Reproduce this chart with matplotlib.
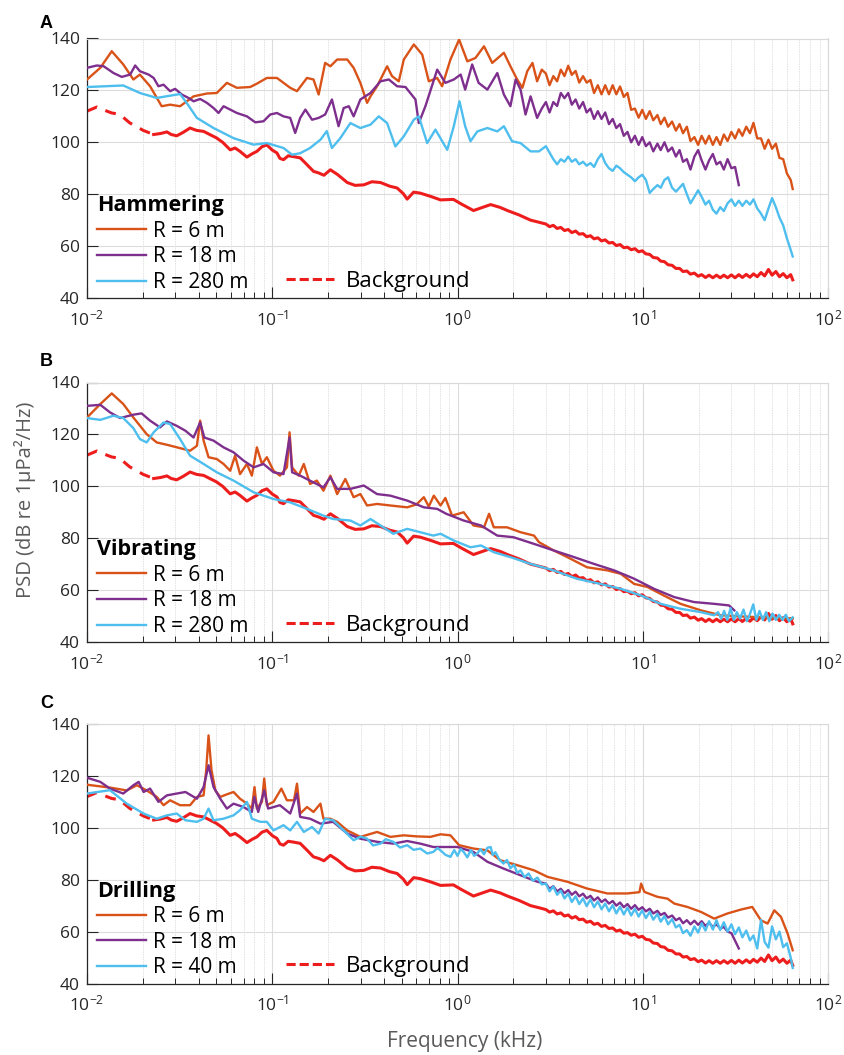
import matplotlib
matplotlib.use('Agg')
import matplotlib.pyplot as plt
from matplotlib.lines import Line2D
from matplotlib.ticker import LogLocator, MultipleLocator, NullFormatter

plt.rcParams['font.family'] = ['Open Sans', 'DejaVu Sans']
plt.rcParams['mathtext.default'] = 'regular'

ORANGE = '#D95319'
PURPLE = '#7E2F8E'
BLUE = '#4DBEEE'
RED = '#EE1D1D'

# shared high-frequency grid (kHz) for the noisy tails
f_hi = [3.0, 3.14, 3.29, 3.45, 3.61, 3.78, 3.96, 4.14, 4.34, 4.54, 4.76, 4.98, 5.22, 5.46,
        5.72, 5.99, 6.27, 6.57, 6.88, 7.2, 7.54, 7.9, 8.27, 8.66, 9.07, 9.5, 9.94, 10.4,
        10.9, 11.4, 12.0, 12.5, 13.1, 13.7, 14.4, 15.1, 15.8, 16.5, 17.3, 18.1, 19.0, 19.9,
        20.8, 21.8, 22.8, 23.9, 25.0, 26.2, 27.4, 28.7, 30.1, 31.5, 33.0, 34.5, 36.2, 37.9,
        39.6, 41.5, 43.5, 45.5, 47.7, 49.9, 52.3, 54.7, 57.3, 60.0, 62.9, 64.5]

# background noise (same in all panels)
bg_f = [0.01, 0.0113, 0.0125, 0.0136, 0.015, 0.017, 0.0201, 0.0229, 0.025, 0.027, 0.0285,
        0.0305, 0.033, 0.036, 0.039, 0.0426, 0.046, 0.05, 0.054, 0.0593, 0.063, 0.067, 0.073,
        0.078, 0.0826, 0.088, 0.0935, 0.1, 0.106, 0.11, 0.115, 0.122, 0.13, 0.1415, 0.152,
        0.167, 0.178, 0.19, 0.206, 0.225, 0.254, 0.28, 0.312, 0.345, 0.384, 0.43, 0.472, 0.51,
        0.535, 0.58, 0.63, 0.72, 0.81, 0.95, 1.05, 1.22, 1.35, 1.51, 1.7, 1.86, 2.15, 2.48, 2.75]
bg_db = [112, 113.6, 112.3, 111.3, 110.8, 107.5, 104.6, 103, 103.4, 104, 103, 102.5, 103.8,
         105.5, 104.6, 104.2, 103, 101.7, 100, 97.1, 97.8, 96.5, 94.3, 95.6, 96.5, 98.3, 99,
         97, 95.9, 93.8, 93.3, 94.8, 94.5, 94, 91.8, 88.8, 88.2, 87.3, 89.4, 87.6, 84.5, 83.4,
         83.6, 84.8, 84.5, 83.1, 82.4, 80.2, 78.1, 80.8, 80.4, 79.1, 77.8, 78, 76.2, 73.7,
         74.8, 76, 74.9, 73.7, 72, 70, 69.2]
bg_hi = [68.5, 67.5, 68, 66.8, 67.2, 66, 66.4, 65.2, 65.8, 64.6, 64.8, 63.6, 64, 62.8, 63.2,
         62, 62.4, 61.2, 61.4, 60.2, 60.6, 59.4, 59.6, 58.6, 59, 57.8, 58.2, 57, 56.8, 55.6,
         55.4, 54.2, 54, 52.8, 52.6, 51.4, 51.4, 50.2, 50.4, 49.2, 49.6, 48.4, 49, 47.9, 48.8,
         47.8, 48.8, 47.8, 48.8, 47.8, 48.9, 47.8, 49, 47.9, 49.1, 48, 49.3, 48.2, 49.8, 48.5,
         51, 48.8, 50.2, 48.2, 49.4, 47.8, 49, 47]

# A: hammering
a_r6_f = [0.01, 0.0118, 0.0136, 0.0157, 0.0178, 0.0193, 0.0219, 0.0253, 0.0281, 0.0318,
          0.0376, 0.0444, 0.0502, 0.0569, 0.0644, 0.076, 0.0826, 0.0935, 0.106, 0.125, 0.136,
          0.154, 0.167, 0.178, 0.193, 0.206, 0.224, 0.254, 0.275, 0.299, 0.325, 0.339, 0.368,
          0.417, 0.443, 0.482, 0.513, 0.581, 0.645, 0.70, 0.777, 0.826, 0.916, 1.02, 1.13,
          1.25, 1.39, 1.54, 1.78, 1.93, 2.1, 2.24, 2.38, 2.54, 2.69, 2.85]
a_r6_db = [124.2, 128.7, 135.1, 130, 124.2, 126.1, 121.6, 113.9, 114.5, 113.9, 117.7, 118.8,
           119, 122.9, 121, 121.3, 122.6, 124.8, 124.8, 121, 119.7, 124.8, 124.2, 118.4, 130.6,
           129.3, 131.9, 131.9, 128.7, 122.9, 115.2, 117.7, 121.6, 129.3, 125.5, 123.5, 131.9,
           137.7, 133.8, 123.5, 124.8, 121.6, 131.9, 139.6, 131.2, 132.5, 137, 130.6, 134.5,
           129.3, 124.2, 121, 127.4, 130.6, 123.5, 128]
a_r6_hi = [126.5, 122, 125.5, 123.5, 128, 125.5, 129.5, 126, 127.5, 123, 125.5, 123, 124, 119,
           122, 118.5, 122, 118.5, 122, 118.5, 121.5, 117.5, 119, 112.5, 113, 109.5, 112.5, 109,
           112, 108.5, 110.5, 107, 109.5, 106, 108, 104.5, 107, 103.5, 106, 100.5, 102, 99,
           102.5, 99.5, 102.5, 99, 102, 99, 103, 100.5, 104, 101.5, 105, 102.5, 106, 103.5,
           107.5, 101.5, 101.5, 97.5, 101, 97.5, 99.5, 94, 93.5, 88, 85.5, 82]

a_r18_f = [0.01, 0.0113, 0.0123, 0.0139, 0.0154, 0.0171, 0.0182, 0.0193, 0.0215, 0.0229,
           0.0243, 0.0259, 0.0281, 0.0299, 0.0325, 0.0353, 0.0376, 0.0408, 0.0444, 0.0482,
           0.0513, 0.0546, 0.0593, 0.0644, 0.073, 0.081, 0.0897, 0.0975, 0.106, 0.115, 0.125,
           0.133, 0.1415, 0.151, 0.164, 0.178, 0.193, 0.21, 0.228, 0.243, 0.259, 0.275, 0.299,
           0.339, 0.384, 0.426, 0.472, 0.524, 0.593, 0.618, 0.671, 0.777, 0.86, 0.955, 1.04,
           1.10, 1.2, 1.30, 1.45, 1.64, 1.78, 1.93, 2.06, 2.19, 2.33, 2.48, 2.69, 2.85]
a_r18_db = [128.7, 129.6, 129.3, 126.7, 125.2, 126.1, 129.6, 127.4, 126.1, 124.8, 121.6,
            122.2, 119.7, 120.6, 118.4, 117.1, 115.8, 116.7, 115.2, 113.2, 111.3, 113.9, 112.6,
            111.3, 110, 107.7, 108.1, 110.7, 111.3, 110, 109.4, 103.6, 109.4, 112.6, 108.7,
            109.4, 110.7, 116.5, 106.2, 113.2, 113.9, 110, 116.5, 119, 123.5, 124.2, 121.6,
            121.3, 116.5, 107.4, 113.9, 128, 122.9, 124.2, 126.1, 120.3, 130, 122.9, 120.3,
            126.7, 118.4, 113.9, 124.2, 120.3, 110.7, 117.7, 109.4, 113]
a_r18_hi = [115.5, 111.5, 115.5, 114, 119, 117, 119, 114.5, 116.5, 113, 115.5, 111.5, 113, 109,
            112, 109, 111.5, 107, 109, 105.5, 107, 102.5, 104, 100, 102.5, 99, 102, 98.5, 100,
            96.5, 99.5, 97, 100, 96.5, 98, 94.5, 97, 92.5, 93.5, 89.5, 94.5, 97, 93, 89.5, 93,
            95.5, 91.5, 92.5, 89.5, 93.5, 90, 90.5, 83.5]

a_r280_f = [0.01, 0.0157, 0.0193, 0.0238, 0.0318, 0.0345, 0.0392, 0.0482, 0.0618, 0.0793,
            0.0935, 0.115, 0.128, 0.1415, 0.16, 0.182, 0.197, 0.21, 0.233, 0.264, 0.299, 0.339,
            0.376, 0.417, 0.462, 0.513, 0.581, 0.618, 0.686, 0.76, 0.88, 0.955, 1.025, 1.10,
            1.175, 1.28, 1.45, 1.64, 1.78, 1.97, 2.19, 2.48, 2.75]
a_r280_db = [121.3, 121.9, 119, 117.1, 118.6, 115.2, 109.4, 105.5, 101.6, 99.1, 99.7, 97.8,
             95.2, 95.8, 97.8, 101, 104.3, 97.8, 101.6, 107.4, 105.5, 106.8, 110, 107.4, 98.4,
             102.3, 108.7, 110, 99.7, 104.9, 97.1, 106.2, 115.8, 106.2, 100.4, 104.2, 105.5,
             104.2, 106.2, 100.4, 99.7, 96.5, 96.5]
a_r280_hi = [98.5, 96, 93.5, 91.5, 93.5, 92.5, 94.5, 92.5, 93.5, 91.5, 92.5, 91, 92, 90.5, 93.5,
             95.5, 92, 90, 89, 91, 90, 88.5, 87.5, 86.5, 85, 86.5, 87.5, 85.5, 80.5, 82, 83.5,
             82.5, 85.5, 86.5, 82.5, 81, 82.5, 84, 80, 76.5, 79, 81.5, 79, 76, 77.5, 74, 72.5,
             75, 73.5, 76.5, 78, 75.5, 77.5, 75.5, 77.5, 76, 78, 74.5, 72.5, 70, 74.5, 78.5, 75,
             71, 68, 63, 58.5, 56]

# B: vibrating
b_r6_f = [0.01, 0.0118, 0.0136, 0.0157, 0.0178, 0.021, 0.0238, 0.027, 0.0318, 0.036, 0.0392,
          0.0408, 0.0426, 0.0453, 0.0502, 0.0546, 0.0593, 0.063, 0.067, 0.073, 0.0776, 0.0826,
          0.088, 0.0935, 0.1016, 0.11, 0.12, 0.124, 0.128, 0.139, 0.148, 0.16, 0.174, 0.189,
          0.206, 0.224, 0.248, 0.275, 0.299, 0.325, 0.368, 0.434, 0.535, 0.6, 0.658, 0.70,
          0.745, 0.81, 0.86, 0.935, 1.08, 1.22, 1.39, 1.48, 1.57, 1.85, 2.19, 2.59, 2.75, 3.3,
          3.92, 5.0, 6.44, 7.6, 8.98, 10.6, 13.0, 16.0, 20.6, 26.3, 35.0, 45.0, 64.5]
b_r6_db = [126.5, 131.7, 135.8, 131.7, 126.5, 120.1, 116.9, 116, 114.7, 113.7, 115.6, 125.3,
           117.6, 111.2, 110.5, 108.6, 106, 111.8, 104.7, 108.6, 104.1, 115, 108.6, 111.2, 106,
           104.1, 107.3, 120.8, 107.3, 104.1, 108.6, 100.9, 102.2, 98.3, 104.1, 97, 102.8, 95.8,
           97, 92.6, 93.2, 92.6, 91.9, 93, 95.8, 92.2, 96.4, 92.6, 95.5, 88.7, 90, 84.9, 84.2,
           89.4, 84.2, 84.2, 82.3, 81, 78.5, 75.3, 72.7, 68.8, 67.6, 66.3, 62.4, 61.2, 57.9,
           54.7, 52.2, 50.3, 49.8, 49.5, 49]

b_r18_f = [0.01, 0.0118, 0.0133, 0.0151, 0.0178, 0.0197, 0.0219, 0.0248, 0.027, 0.0305, 0.034,
           0.0376, 0.0408, 0.043, 0.0482, 0.0546, 0.0618, 0.07, 0.0793, 0.0897, 0.1016, 0.115,
           0.124, 0.128, 0.1415, 0.167, 0.189, 0.206, 0.224, 0.264, 0.312, 0.368, 0.434, 0.535,
           0.658, 0.777, 0.87, 1.08, 1.34, 1.64, 2.0, 2.59, 3.3, 4.26, 5.45, 7.0, 8.98, 11.5,
           14.8, 18.9, 24.3, 29.2, 31.2]
b_r18_db = [131, 131.4, 128.5, 126.3, 127.6, 128.1, 125.3, 122.7, 125, 123.3, 121.4, 118.8,
            124.6, 118.8, 117.6, 115, 113.1, 109.9, 107.3, 108.6, 105.4, 104.7, 118.8, 105.4,
            104.1, 101.5, 99.6, 103.5, 99, 99, 100.3, 97, 96.4, 94.5, 91.9, 91.3, 89.4, 86.8,
            84.9, 81, 80.4, 77.8, 75.3, 72.7, 70.1, 67.6, 64.4, 60.5, 57.3, 55.4, 54.7, 54.1,
            52.2]

b_r280_f = [0.01, 0.0118, 0.0139, 0.0157, 0.0178, 0.0193, 0.021, 0.0229, 0.0259, 0.0281,
            0.0318, 0.036, 0.0426, 0.0502, 0.0618, 0.0793, 0.1016, 0.125, 0.154, 0.189, 0.213,
            0.264, 0.299, 0.339, 0.384, 0.45, 0.535, 0.63, 0.74, 0.81, 0.955, 1.175, 1.34, 1.57,
            1.93, 2.48, 3.3, 4.4, 5.9, 7.6, 9.8, 12.5, 16.0, 20.6, 24.3, 25.5, 26.5, 27.5, 28.6,
            29.8, 31.0, 32.2, 33.5, 35.0, 36.5, 38.0, 39.5, 41.0, 42.7, 44.5, 46.3, 48.2, 50.2,
            52.3, 54.5, 56.8, 59.2, 61.6, 64.5]
b_r280_db = [126.3, 125.6, 127.2, 126.3, 122.4, 118.2, 116.9, 120.8, 124.6, 124, 118.2, 111.8,
             108.6, 105.4, 102.2, 97.7, 95.1, 93.8, 91.3, 88.7, 87.4, 86.8, 84.9, 87.4, 84.9,
             81.7, 83.6, 82.3, 81, 81.7, 79.1, 76.5, 77.2, 74.6, 72.7, 70.1, 67.6, 64.4, 62.4,
             60.5, 57.9, 54.7, 52.8, 51.5, 50.3, 51.5, 49, 52, 48.5, 53, 48.5, 51.5, 49, 52.5,
             48, 51, 54.5, 48.5, 52, 48.5, 51.5, 48, 51, 48.5, 50.5, 48.5, 50.5, 48, 49.5]

# C: drilling
c_r6_f = [0.01, 0.0133, 0.0164, 0.0186, 0.021, 0.0238, 0.0259, 0.0281, 0.0318, 0.036, 0.0392,
          0.0426, 0.044, 0.0453, 0.047, 0.0493, 0.0524, 0.0569, 0.0618, 0.067, 0.073, 0.0776,
          0.0802, 0.0826, 0.088, 0.0905, 0.0935, 0.1016, 0.112, 0.12, 0.131, 0.136, 0.1415,
          0.154, 0.167, 0.182, 0.189, 0.206, 0.224, 0.254, 0.299, 0.368, 0.434, 0.513, 0.6,
          0.714, 0.81, 0.916, 1.02, 1.22, 1.45, 1.7, 2.1, 2.59, 3.06, 3.92, 5.0, 6.44, 8.26,
          9.6, 9.8, 10.2, 12.0, 13.6, 14.8, 17.4, 20.6, 24.3, 28.7, 33.9, 39.0, 43.4, 47.2,
          51.3, 55.7, 60.5, 64.5]
c_r6_db = [116.6, 115.5, 114.4, 116.4, 114.4, 111.9, 108.7, 110.6, 108.7, 108.7, 111.9, 112.5,
           122.2, 135.6, 122.2, 114.4, 111.9, 112.9, 113.8, 111.2, 109.3, 107.4, 115.7, 107.4,
           110, 119, 108.7, 110, 115.1, 110.6, 110.6, 117, 105.5, 108, 106.1, 109.3, 103.5,
           103.5, 102.3, 99, 96.5, 98.4, 96.5, 97.1, 96.7, 96.5, 97.5, 97.1, 93.3, 92, 91.3,
           87.5, 85.6, 83.6, 81.1, 79.2, 76.6, 74.7, 74.7, 75.2, 78.5, 75.3, 73.4, 72.7, 70.8,
           69.5, 67.6, 65, 67, 68.5, 69.5, 64.4, 63.1, 68.2, 65.7, 59.3, 52.8]

c_r18_f = [0.01, 0.0118, 0.0133, 0.0157, 0.0178, 0.019, 0.0202, 0.0219, 0.0243, 0.027, 0.0305,
           0.034, 0.0392, 0.0426, 0.0453, 0.0482, 0.0524, 0.0569, 0.0618, 0.07, 0.0776, 0.08,
           0.084, 0.0905, 0.095, 0.11, 0.125, 0.136, 0.1415, 0.16, 0.182, 0.213, 0.254, 0.299,
           0.368, 0.45, 0.535, 0.63, 0.74, 0.898, 1.0, 1.22, 1.45, 1.77, 2.19, 2.7]
c_r18_db = [119.3, 117.7, 115.1, 113.2, 116.4, 117.7, 113.8, 115.1, 110, 112.5, 113.2, 113.8,
            111.2, 115.7, 124.1, 115.7, 111.2, 107.4, 109.3, 108, 106.1, 111.9, 106.1, 114.4,
            107.4, 108.7, 105.5, 113.2, 104.2, 103.5, 101.6, 102.3, 97.8, 95.8, 94.6, 93.9,
            94.9, 93.9, 92.6, 92.6, 92.6, 90.7, 86.9, 84.3, 81.7, 79.2]
c_r18_hi = [78.5, 76.5, 77.5, 75.5, 76.5, 74.8, 76, 74.2, 75.4, 73.6, 74.6, 72.8, 73.8, 72,
            73.2, 71.4, 72.4, 70.8, 71.8, 70, 71.2, 69.4, 70.6, 68.8, 70.2, 68.4, 69.4, 67.8,
            68.8, 67, 68, 66.4, 67.2, 65.4, 66.2, 64.4, 65.2, 63.2, 64.4, 62.8, 64.2, 62.6, 64,
            62.2, 63.4, 61.8, 62.8, 61.2, 61.8, 60, 59.4, 56.5, 53.5]

c_r40_f = [0.01, 0.0133, 0.0164, 0.0202, 0.0238, 0.027, 0.0305, 0.034, 0.0392, 0.0426, 0.0453,
           0.0482, 0.0546, 0.0618, 0.067, 0.073, 0.0776, 0.086, 0.0935, 0.1016, 0.115, 0.125,
           0.136, 0.148, 0.164, 0.178, 0.193, 0.213, 0.243, 0.275, 0.30, 0.325, 0.35, 0.384,
           0.41, 0.45, 0.49, 0.535, 0.58, 0.63, 0.686, 0.74, 0.78, 0.81, 0.86, 0.916, 0.96, 1.0,
           1.04, 1.08, 1.13, 1.18, 1.23, 1.28, 1.33, 1.39, 1.45, 1.51, 1.55, 1.6, 1.68, 1.77,
           1.85, 1.93, 2.02, 2.1, 2.19, 2.3, 2.42, 2.55, 2.7, 2.85]
c_r40_db = [113.2, 114.5, 109.3, 105.5, 103.5, 104.8, 105.5, 102.9, 102.3, 103.5, 107.4, 102.9,
            103.5, 104.8, 106.8, 110, 103.5, 102.3, 102.3, 99, 101, 99, 102.3, 98.4, 100.3,
            97.8, 103.5, 102.9, 99, 95.2, 96.6, 95.8, 93.2, 93.9, 95.6, 94.6, 92.4, 93.3, 91.5,
            92, 90.1, 90.7, 92.2, 91.3, 89.6, 88.8, 91.4, 89.2, 91.8, 90.7, 88.6, 91.4, 89.2,
            90.1, 91.8, 89.8, 92.3, 92.6, 89.5, 90.6, 87.8, 86.2, 87.6, 84.4, 85.8, 82.6, 83.6,
            81, 82.4, 79.6, 80.8, 78.2]
c_r40_hi = [78.5, 75.5, 77.4, 74.2, 75.8, 72.8, 74.6, 71.4, 73.6, 70.6, 72.8, 69.8, 72.4, 69.4,
            71.6, 68.6, 70.8, 67.8, 70.2, 67, 69.6, 66.6, 69.2, 66.2, 68.8, 65.8, 68.2, 65.2,
            67.6, 64.6, 66.8, 63.8, 66, 62.8, 64.8, 61.6, 62.6, 59.4, 60.6, 58.4, 62, 59.6, 63.2,
            60.4, 64, 60.8, 64.4, 60.6, 63.6, 60, 62.8, 59, 61.6, 57.8, 60.4, 56.6, 58.5, 53.5,
            64.5, 56, 53.8, 62, 57, 60, 54, 55.5, 50, 46]

panels = [
    ('A', 'Hammering', ['R = 6 m', 'R = 18 m', 'R = 280 m'],
     [(a_r6_f + f_hi, a_r6_db + a_r6_hi),
      (a_r18_f + f_hi[:len(a_r18_hi)], a_r18_db + a_r18_hi),
      (a_r280_f + f_hi, a_r280_db + a_r280_hi)]),
    ('B', 'Vibrating', ['R = 6 m', 'R = 18 m', 'R = 280 m'],
     [(b_r6_f, b_r6_db), (b_r18_f, b_r18_db), (b_r280_f, b_r280_db)]),
    ('C', 'Drilling', ['R = 6 m', 'R = 18 m', 'R = 40 m'],
     [(c_r6_f, c_r6_db),
      (c_r18_f + f_hi[:len(c_r18_hi)], c_r18_db + c_r18_hi),
      (c_r40_f + f_hi, c_r40_db + c_r40_hi)]),
]
colors = [ORANGE, PURPLE, BLUE]

fig = plt.figure(figsize=(8.44, 10.55), dpi=100)
ax_left = 87 / 844
ax_w = 741 / 844
ax_h = 259.5 / 1055
ax_bottoms = [1 - 298 / 1055, 1 - 642 / 1055, 1 - 983.5 / 1055]
letter_y = [23, 362, 704]

n_dash = 8  # background points drawn dashed at the low end
for (letter, title, labels, series), bottom, ly in zip(panels, ax_bottoms, letter_y):
    ax = fig.add_axes([ax_left, bottom, ax_w, ax_h])
    ax.set_xscale('log')

    ax.plot(bg_f[:n_dash], bg_db[:n_dash], color=RED, lw=2.2, ls=(0, (3.6, 2.9)),
            solid_capstyle='butt', zorder=2)
    ax.plot(bg_f[n_dash - 1:] + f_hi, bg_db[n_dash - 1:] + bg_hi, color=RED, lw=2.2, zorder=2)
    handles = []
    for (f, db), c in zip(series, colors):
        h, = ax.plot(f, db, color=c, lw=1.7, zorder=3)
        handles.append(h)

    ax.set_xlim(1e-2, 1e2)
    ax.set_ylim(40, 140)
    ax.yaxis.set_major_locator(MultipleLocator(20))
    ax.xaxis.set_major_locator(LogLocator(base=10, numticks=10))
    ax.xaxis.set_minor_locator(LogLocator(base=10, subs=range(2, 10), numticks=50))
    ax.xaxis.set_minor_formatter(NullFormatter())
    ax.grid(True, which='major', color='#dcdcdc', lw=0.8)
    ax.grid(True, which='minor', axis='x', color='#e2e2e2', lw=0.7, ls=(0, (1.5, 1)))
    ax.set_axisbelow(True)
    ax.tick_params(which='both', direction='in', colors='#262626', labelsize=12.5)
    ax.tick_params(which='major', length=8, width=0.8, pad=5)
    ax.tick_params(axis='x', which='major', pad=8)
    ax.tick_params(which='minor', length=4, width=0.7)
    for s in ['top', 'right']:
        ax.spines[s].set_color('#d8d8d8')
    for s in ['left', 'bottom']:
        ax.spines[s].set_color('#262626')
        ax.spines[s].set_linewidth(0.9)

    leg = ax.legend(handles, labels, title=title, loc='lower left',
                    bbox_to_anchor=(0.013, 0.02), frameon=False, fontsize=15,
                    title_fontproperties={'weight': 'bold', 'size': 15.5}, alignment='left',
                    handlelength=2.35, handletextpad=0.35, labelspacing=0.22,
                    borderpad=0, borderaxespad=0)
    ax.add_artist(leg)
    bg_handle = Line2D([], [], color=RED, lw=2.2, ls=(0, (3, 1.3)))
    ax.legend([bg_handle], ['Background'], loc='lower left', bbox_to_anchor=(0.268, 0.025),
              frameon=False, fontsize=16, handlelength=2.2, handletextpad=0.5,
              borderpad=0, borderaxespad=0)

    fig.text(40 / 844, 1 - ly / 1055, letter, fontsize=13, fontweight='bold',
             family=['Liberation Sans', 'DejaVu Sans'], va='center', ha='left')

fig.text(25 / 844, 1 - 500 / 1055, 'PSD (dB re 1μPa²/Hz)', rotation=90, fontsize=14.5,
         color='#5a5a5a', ha='center', va='center')
fig.text(465 / 844, 1 - 1042 / 1055, 'Frequency (kHz)', fontsize=15, color='#5a5a5a',
         ha='center', va='center')

fig.savefig('out.png', dpi=100)
